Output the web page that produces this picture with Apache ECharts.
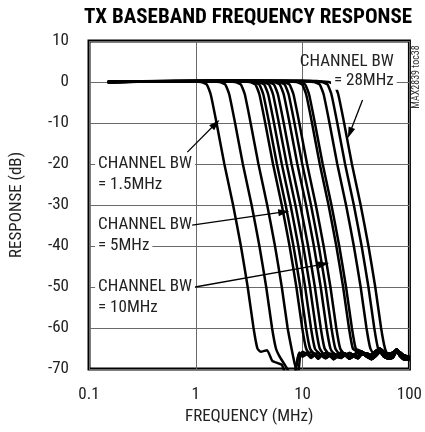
<!DOCTYPE html>
<html><head><meta charset="utf-8">
<script src="https://cdn.jsdelivr.net/npm/echarts@6/dist/echarts.min.js"></script>
<style>html,body{margin:0;padding:0;background:#fff}#c{width:425px;height:432px}</style>
</head><body><div id="c"></div>
<script>
const FONT = '"Liberation Sans Narrow", "Arial Narrow", "Roboto Condensed", "Liberation Sans", sans-serif';

// ---- data ----
const xTickLabels = ['0.1', '1', '10', '100'];
const yTicks = [-70, -60, -50, -40, -30, -20, -10, 0, 10];
// response levels (dB) at which each curve's frequency is listed
const levelsDb = [0, 0.3, 0, -0.6, -3, -10, -20, -30, -40, -50, -60, -65];
// frequency (MHz) at each level, one array per channel bandwidth curve
const bw1  = [0.15, 0.634, 1.117, 1.267, 1.378, 1.564, 1.850, 2.234, 2.643, 3.061, 3.472, 3.775];
const bw2  = [0.15, 0.946, 1.665, 1.888, 2.055, 2.331, 2.757, 3.330, 3.939, 4.562, 5.175, 5.628];
const bw3  = [0.15, 1.323, 2.330, 2.642, 2.875, 3.261, 3.858, 4.659, 5.512, 6.383, 7.240, 7.874];
const bw4  = [0.15, 1.812, 3.190, 3.617, 3.936, 4.466, 5.283, 6.380, 7.548, 8.741, 9.915, 10.78];
const bw5  = [0.15, 1.971, 3.470, 3.935, 4.282, 4.858, 5.746, 6.940, 8.210, 9.508, 10.78, 11.73];
const bw6  = [0.15, 2.189, 3.855, 4.371, 4.756, 5.396, 6.383, 7.709, 9.120, 10.56, 11.98, 13.03];
const bw7  = [0.15, 2.431, 4.281, 4.854, 5.282, 5.993, 7.089, 8.561, 10.13, 11.73, 13.30, 14.47];
const bw8  = [0.15, 2.700, 4.754, 5.391, 5.866, 6.656, 7.873, 9.508, 11.25, 13.03, 14.78, 16.07];
const bw9  = [0.15, 3.062, 5.390, 6.112, 6.651, 7.546, 8.926, 10.78, 12.75, 14.77, 16.75, 18.22];
const bw10 = [0.15, 3.402, 5.990, 6.793, 7.392, 8.386, 9.919, 11.98, 14.17, 16.41, 18.62, 20.25];
const bw11 = [0.15, 3.777, 6.650, 7.541, 8.206, 9.310, 11.01, 13.30, 15.73, 18.22, 20.67, 22.48];
const bw12 = [0.15, 4.964, 8.740, 9.911, 10.79, 12.24, 14.47, 17.48, 20.68, 23.95, 27.16, 29.54];
const bw13 = [0.15, 5.288, 9.310, 10.56, 11.49, 13.03, 15.42, 18.62, 22.03, 25.51, 28.94, 31.47];
const bw14 = [0.15, 7.242, 12.75, 14.46, 15.73, 17.85, 21.11, 25.50, 30.17, 34.94, 39.63, 43.10];
const bw15 = [0.15, 8.568, 15.09, 17.11, 18.61, 21.12, 24.98, 30.17, 35.69, 41.33, 46.88, 50.99];
const bw16 = [0.15, 9.926, 17.48, 19.82, 21.56, 24.47, 28.94, 34.95, 41.35, 47.88, 54.31, 59.07];
// stop-band tails of the three narrowest curves
const tail1MHz = [4.05, 4.65, 5.2, 6.4, 6.9, 8.4, 9.2];
const tail1Db  = [-65.8, -65.4, -68, -69, -71, -71, -66.3];
const tail2MHz = [6.1, 7.0, 7.6, 8.4, 9.3];
const tail2Db  = [-67, -69.5, -71, -71, -66];
const tail3MHz = [8.4, 8.9, 9.1, 9.5];
const tail3Db  = [-68.5, -71, -71, -66.6];
// noise floor
const floorMHz = [10, 11, 12, 13, 14, 15, 16.5, 18, 19.5, 21, 23, 25, 27.5, 30, 33, 36, 40, 44, 48, 53, 58, 64, 70, 76, 82, 88, 94, 100];
const floorA = [-66.5, -66, -66.8, -66.2, -67, -66.4, -66.9, -66.3, -67.1, -66.5, -66.8, -66.2, -67, -66.5, -66.9, -65.8, -66.6, -67.2, -66.4, -65.3, -66.5, -67, -66.8, -65.2, -66.4, -67.2, -67.3, -67.4];
const floorB = [-67, -66.4, -67.3, -66.6, -67.5, -66.8, -67.4, -66.7, -67.6, -67, -67.3, -66.6, -67.5, -66.9, -67.4, -66.3, -67, -67.6, -66.9, -65.8, -67, -67.5, -67.2, -65.7, -66.9, -67.6, -67.7, -67.8];
const floorC = [-65.8, -66.3, -65.9, -66.6, -66, -66.7, -66.1, -66.8, -66.2, -66.6, -66, -66.7, -66.1, -66.6, -65.9, -66.5, -66.2, -66.6, -65.7, -65, -65.9, -66.3, -66, -65.3, -66, -66.6, -66.9, -67];

// annotations (data coordinates)
const noteText = ['CHANNEL BW', '= 1.5MHz', 'CHANNEL BW', '= 5MHz', 'CHANNEL BW', '= 10MHz', 'CHANNEL BW', '= 28MHz'];
const noteMHz  = [0.114, 0.114, 0.114, 0.114, 0.114, 0.114, 76, 76];
const noteDb   = [-20, -25.1, -34.9, -40, -50, -55.1, 5, 0.2];
const noteMask = [true, false, false, true, true, false, false, true];
const arrowFromMHz = [0.833, 0.925, 0.985, 36.4];
const arrowFromDb  = [-17.1, -34.9, -50, -4.4];
const arrowToMHz   = [1.531, 6.66, 15.74, 27.7];
const arrowToDb    = [-10.2, -31.7, -44.4, -12.4];

// ---- build ----
const curves = [bw1, bw2, bw3, bw4, bw5, bw6, bw7, bw8, bw9, bw10, bw11, bw12, bw13, bw14, bw15, bw16];
const tails = [[tail1MHz, tail1Db], [tail2MHz, tail2Db], [tail3MHz, tail3Db]];
const floors = [floorA, floorB, floorC];

const series = curves.map((c, k) => {
  const pts = c.map((f, i) => [f, levelsDb[i]]);
  let last = c[c.length - 1] * 1.06;
  if (tails[k]) {
    tails[k][0].forEach((f, i) => pts.push([f, tails[k][1][i]]));
    last = tails[k][0][tails[k][0].length - 1];
  }
  const fl = floors[k % 3];
  floorMHz.forEach((f, i) => { if (f > last) pts.push([f, fl[i]]); });
  return {
    type: 'line', data: pts, showSymbol: false, symbol: 'none',
    smooth: 0.15, clip: true,
    lineStyle: { color: '#000', width: 2.5 }, silent: true, z: 3
  };
});

series.push({
  type: 'line', data: [], silent: true,
  markLine: {
    silent: true, symbol: ['none', 'triangle'], symbolSize: [7, 11],
    label: { show: false },
    lineStyle: { color: '#000', width: 1.3, type: 'solid' },
    data: arrowFromMHz.map((f, i) => [
      { coord: [f, arrowFromDb[i]] },
      { coord: [arrowToMHz[i], arrowToDb[i]] }
    ])
  }
});

const chart = echarts.init(document.getElementById('c'), null, { renderer: 'canvas' });
chart.setOption({
  animation: false,
  backgroundColor: '#fff',
  title: {
    text: 'TX BASEBAND FREQUENCY RESPONSE', left: 243, top: 2, textAlign: 'center',
    textStyle: { fontFamily: FONT, fontWeight: 'bold', fontSize: 21, color: '#000' }
  },
  grid: { left: 82, right: 14, top: 41, bottom: 63, show: true, borderColor: '#000', borderWidth: 3, backgroundColor: 'transparent' },
  xAxis: {
    type: 'log', logBase: 10, min: 0.1, max: 100,
    name: 'FREQUENCY (MHz)', nameLocation: 'middle', nameGap: 38,
    nameTextStyle: { fontFamily: FONT, fontSize: 17, color: '#222' },
    axisLine: { show: false }, axisTick: { show: false },
    axisLabel: { fontFamily: FONT, fontSize: 17, color: '#222', margin: 17,
      formatter: v => xTickLabels[Math.round(Math.log10(v)) + 1] },
    splitLine: { show: true, lineStyle: { color: '#6a6a6a', width: 1 } },
    minorTick: { show: false }
  },
  yAxis: {
    type: 'value', min: yTicks[0], max: yTicks[yTicks.length - 1], interval: 10,
    name: 'RESPONSE (dB)', nameLocation: 'middle', nameGap: 64,
    nameTextStyle: { fontFamily: FONT, fontSize: 17, color: '#222' },
    axisLine: { show: false }, axisTick: { show: false },
    axisLabel: { fontFamily: FONT, fontSize: 17, color: '#222', margin: 20 },
    splitLine: { show: true, lineStyle: { color: '#6a6a6a', width: 1 } }
  },
  series: series
});

const gfx = noteText.map((t, i) => {
  const p = chart.convertToPixel({ gridIndex: 0 }, [noteMHz[i], noteDb[i]]);
  const right = noteMHz[i] > 10;
  return {
    type: 'text', x: p[0], y: p[1], z: 100, silent: true,
    style: {
      text: t, fontFamily: FONT, fontSize: 17, fill: '#222',
      align: right ? 'right' : 'left', verticalAlign: 'middle',
      backgroundColor: noteMask[i] ? '#fff' : 'transparent', padding: [0, 3]
    }
  };
});
gfx.push({
  type: 'text', x: 416, y: 77, rotation: Math.PI / 2, z: 100, silent: true,
  style: { text: 'MAX2839 toc38', fontFamily: FONT, fontSize: 10, fill: '#333', align: 'center', verticalAlign: 'middle' }
});
chart.setOption({ graphic: gfx });
</script></body></html>
